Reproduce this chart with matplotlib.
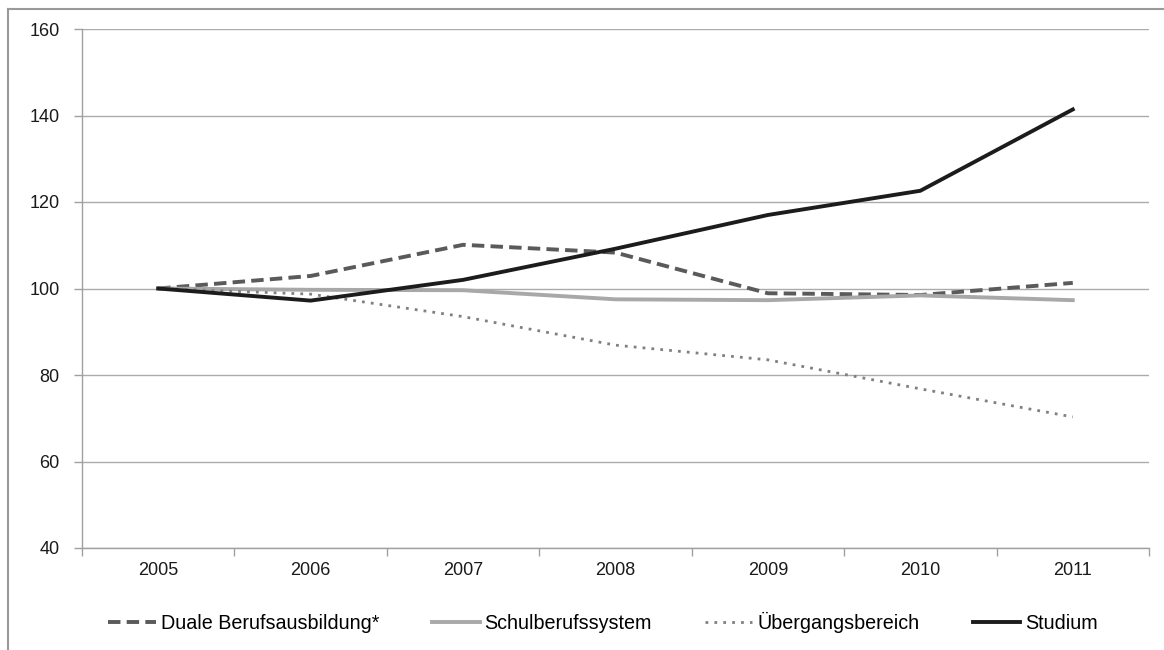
import matplotlib
matplotlib.use("Agg")
import matplotlib.pyplot as plt
from matplotlib.lines import Line2D

years = ["2005", "2006", "2007", "2008", "2009", "2010", "2011"]
duale = [100, 102.9, 110.1, 108.3, 98.9, 98.5, 101.3]
schul = [100, 99.7, 99.6, 97.5, 97.3, 98.4, 97.3]
uebergang = [100, 98.7, 93.5, 86.9, 83.5, 76.8, 70.3]
studium = [100, 97.2, 102.0, 109.2, 117.0, 122.6, 141.4]
yticks = [40, 60, 80, 100, 120, 140, 160]

plt.rcParams['font.family'] = ['Liberation Sans', 'DejaVu Sans']

W, H = 1164, 650
fig = plt.figure(figsize=(W / 100, H / 100), dpi=100)
ax = fig.add_axes([82 / W, 1 - 548 / H, (1149 - 82) / W, (548 - 29) / H])

x = list(range(len(years)))
l1, = ax.plot(x, duale, color="#5a5a5a", lw=2.8, ls=(0, (3.2, 1.6)), label="Duale Berufsausbildung*",
              solid_capstyle="butt", dash_capstyle="butt")
l2, = ax.plot(x, schul, color="#a8a8a8", lw=2.8, label="Schulberufssystem")
l3, = ax.plot(x, uebergang, color="#808080", lw=2.0, ls=(0, (1, 2.2)), label="Übergangsbereich")
l4, = ax.plot(x, studium, color="#1c1c1c", lw=2.8, label="Studium")
for l in (l1, l2, l3, l4):
    l.set_zorder(3)

ax.set_xlim(-0.5, len(years) - 0.5)
ax.set_ylim(40, 160)
ax.set_yticks(yticks)
ax.set_yticklabels([str(v) for v in yticks])
ax.yaxis.grid(True, color="#ababab", lw=1.0)
ax.set_axisbelow(True)

ax.set_xticks(x)
ax.set_xticklabels(years)
ax.set_xticks([i - 0.5 for i in range(len(years) + 1)], minor=True)
ax.tick_params(axis="x", which="major", length=0, pad=10, labelsize=13, colors="#1a1a1a")
ax.tick_params(axis="x", which="minor", length=6, color="#a0a0a0", width=1)
ax.tick_params(axis="y", length=6, color="#a0a0a0", width=1, pad=10, labelsize=13, labelcolor="#1a1a1a")

for s in ("top", "right"):
    ax.spines[s].set_visible(False)
for s in ("left", "bottom"):
    ax.spines[s].set_color("#a0a0a0")
    ax.spines[s].set_linewidth(1.0)

fig.legend(handles=[l1, l2, l3, l4], loc="center", bbox_to_anchor=(603 / W, 1 - 622 / H),
           ncol=4, frameon=False, fontsize=14.2, handlelength=2.4, handletextpad=0.25,
           columnspacing=2.7)

# outer frame (top and left edges)
fig.add_artist(Line2D([8 / W, 1], [1 - 9 / H, 1 - 9 / H], transform=fig.transFigure, color="#9a9a9a", lw=1.5))
fig.add_artist(Line2D([8 / W, 8 / W], [0, 1 - 9 / H], transform=fig.transFigure, color="#9a9a9a", lw=1.5))

fig.savefig("out.png", dpi=100)
